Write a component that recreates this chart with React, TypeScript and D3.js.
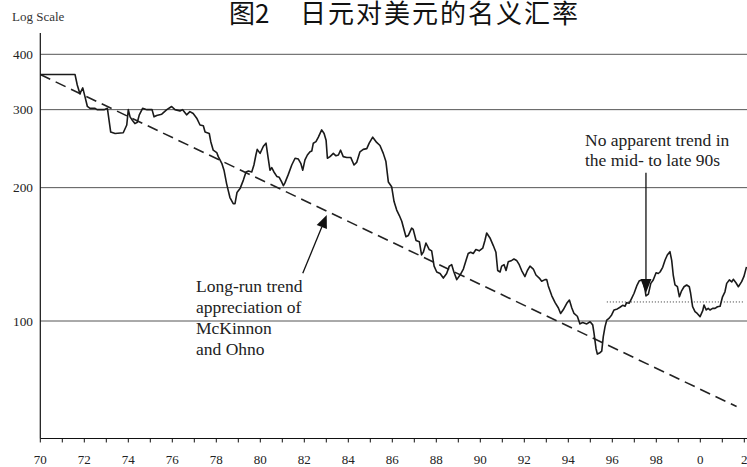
import React from "react";
import * as d3 from "d3";

// Yen per US dollar, monthly-ish observations (decimal years)
const dates = [
  1970.0, 1971.58, 1971.68, 1971.8, 1971.93, 1972.03, 1972.14, 1972.26, 1972.49, 1972.58, 1972.9,
  1973.05, 1973.2, 1973.4, 1973.77, 1973.93, 1974.0, 1974.08, 1974.2, 1974.3, 1974.41, 1974.5,
  1974.65, 1974.85, 1975.08, 1975.17, 1975.29, 1975.52, 1975.75, 1975.97, 1976.12, 1976.35,
  1976.47, 1976.65, 1976.8, 1976.95, 1977.11, 1977.26, 1977.41, 1977.49, 1977.68, 1977.75,
  1977.86, 1978.02, 1978.09, 1978.25, 1978.35, 1978.47, 1978.62, 1978.77, 1978.85, 1978.94,
  1979.08, 1979.23, 1979.35, 1979.46, 1979.61, 1979.71, 1979.8, 1979.86, 1979.99, 1980.14,
  1980.26, 1980.36, 1980.44, 1980.52, 1980.62, 1980.75, 1980.86, 1980.97, 1981.05, 1981.12,
  1981.27, 1981.43, 1981.58, 1981.73, 1981.84, 1981.93, 1982.03, 1982.14, 1982.26, 1982.34,
  1982.41, 1982.53, 1982.64, 1982.79, 1982.9, 1982.99, 1983.05, 1983.17, 1983.32, 1983.44,
  1983.55, 1983.65, 1983.77, 1983.93, 1984.11, 1984.26, 1984.38, 1984.53, 1984.68, 1984.84,
  1984.95, 1985.11, 1985.29, 1985.44, 1985.59, 1985.71, 1985.82, 1985.97, 1986.08, 1986.2,
  1986.32, 1986.43, 1986.5, 1986.62, 1986.73, 1986.88, 1986.95, 1987.08, 1987.23, 1987.33,
  1987.41, 1987.53, 1987.68, 1987.79, 1987.9, 1988.02, 1988.17, 1988.32, 1988.47, 1988.59,
  1988.7, 1988.8, 1988.93, 1989.08, 1989.23, 1989.35, 1989.45, 1989.56, 1989.68, 1989.8,
  1989.95, 1990.11, 1990.21, 1990.29, 1990.44, 1990.59, 1990.71, 1990.79, 1990.9, 1990.97,
  1991.08, 1991.17, 1991.27, 1991.43, 1991.53, 1991.65, 1991.77, 1991.88, 1992.03, 1992.14,
  1992.26, 1992.41, 1992.53, 1992.68, 1992.79, 1992.94, 1993.02, 1993.09, 1993.25, 1993.4,
  1993.55, 1993.65, 1993.77, 1993.93, 1994.05, 1994.16, 1994.26, 1994.41, 1994.53, 1994.65,
  1994.84, 1994.99, 1995.11, 1995.17, 1995.26, 1995.32, 1995.44, 1995.52, 1995.59, 1995.67,
  1995.75, 1995.86, 1995.97, 1996.08, 1996.23, 1996.35, 1996.47, 1996.58, 1996.65, 1996.77,
  1996.88, 1996.99, 1997.11, 1997.23, 1997.38, 1997.49, 1997.53, 1997.64, 1997.75, 1997.86,
  1997.99, 1998.09, 1998.17, 1998.29, 1998.4, 1998.5, 1998.62, 1998.7, 1998.77, 1998.85,
  1998.96, 1999.05, 1999.15, 1999.26, 1999.38, 1999.5, 1999.56, 1999.65, 1999.76, 1999.86,
  1999.99, 2000.11, 2000.17, 2000.27, 2000.36, 2000.44, 2000.56, 2000.67, 2000.78, 2000.9,
  2001.01, 2001.12, 2001.2, 2001.32, 2001.43, 2001.5, 2001.62, 2001.73, 2001.88, 2001.98, 2002.1,
];

const yenPerDollar = [
  360, 360, 341, 326, 336, 321, 305, 302, 302, 300, 300,
  302, 267, 265, 266, 277, 300, 289, 283, 279, 281, 292,
  302, 300, 300, 289, 291, 293, 300, 305, 300, 298,
  300, 292, 297, 294, 287, 277, 276, 267, 265, 254,
  243, 240, 235, 227, 219, 204, 190, 184, 184, 195,
  199, 208, 217, 218, 217, 225, 237, 244, 239, 248,
  252, 233, 219, 222, 217, 212, 211, 206, 202, 205,
  214, 225, 233, 232, 227, 219, 231, 237, 241, 242,
  252, 254, 260, 270, 265, 256, 233, 235, 239, 236,
  237, 243, 235, 234, 234, 225, 228, 241, 244, 245,
  252, 260, 253, 249, 239, 229, 206, 201, 186, 178,
  173, 168, 163, 155, 156, 162, 161, 152, 151, 141,
  143, 150, 145, 144, 133, 129, 128, 125, 128, 133,
  134, 129, 124, 127, 131, 137, 142, 143, 142, 145,
  144, 146, 152, 158, 154, 148, 143, 130, 129, 133,
  134, 130, 136, 137, 138, 137, 134, 130, 126, 130,
  133, 131, 127, 125, 123, 124, 124, 120, 114, 110,
  107, 104, 106, 109.6, 111.5, 107, 104, 102.5, 98.5, 99.2,
  98.5, 99.6, 98, 93.8, 86.7, 84.2, 84.8, 85.5, 92.2, 97.1,
  100.5, 101.5, 103.2, 105.9, 106.5, 107.4, 108.5, 108, 110, 109.7,
  112.5, 115.5, 120, 123.3, 123.8, 117.5, 113.9, 115, 121.6, 123.8,
  128.5, 128, 129, 132.2, 137.3, 140.9, 143.4, 137, 127, 120.6,
  119.5, 113.4, 117, 119.5, 120.6, 119.5, 115.5, 107.7, 105, 104,
  102.3, 105.5, 108.7, 105.9, 106.8, 105.9, 106.8, 106.8, 107.7, 108,
  113.4, 116.4, 121.6, 123.8, 122.5, 124.2, 122, 119.5, 122.7, 125.9, 132.5,
];

// Long-run appreciation trend (straight on the log scale)
const trendYears = [1970, 2001.65];
const trendValues = [360, 64.1];

// Flat level marking the late-90s range
const flatYears = [1995.75, 2002];
const flatValue = 110.4;

const yTickValues = [100, 200, 300, 400];
const xTickYears = d3.range(1970, 2003);

const titleFigure = "图2";
const titleText = "日元对美元的名义汇率";
const yAxisNote = "Log Scale";
const leftNote = ["Long-run trend", "appreciation of", "McKinnon", "and Ohno"];
const rightNote = ["No apparent trend in", "the mid- to late 90s"];

// Arrow anchors in data space: [year, value]
const leftArrow = { from: [1981.93, 128.1], to: [1983.02, 173.5] };
const rightArrow = { from: [1997.53, 216], to: [1997.53, 115.6] };

const W = 747;
const H = 467;
const serif = "'Liberation Serif', 'Times New Roman', serif";

const x = d3.scaleLinear().domain([1970, 2002]).range([40.3, 744.3]);
const y = d3.scaleLog().domain([100, 400]).range([321, 54.3]);
const yAxisTop = 447;
const yAxisBottom = 54.3;

function Arrow({ from, to, len, half }: { from: number[]; to: number[]; len: number; half: number }) {
  const x1 = x(from[0]);
  const y1 = y(from[1]);
  const x2 = x(to[0]);
  const y2 = y(to[1]);
  const dx = x2 - x1;
  const dy = y2 - y1;
  const d = Math.hypot(dx, dy);
  const ux = dx / d;
  const uy = dy / d;
  const bx = x2 - ux * len;
  const by = y2 - uy * len;
  const px = -uy * half;
  const py = ux * half;
  return (
    <g>
      <line x1={x1} y1={y1} x2={bx} y2={by} stroke="#111" strokeWidth={1.3} />
      <polygon points={`${x2},${y2} ${bx + px},${by + py} ${bx - px},${by - py}`} fill="#111" />
    </g>
  );
}

export default function App() {
  const points = dates.map((d, i) => [d, yenPerDollar[i]] as [number, number]);
  const line = d3
    .line<[number, number]>()
    .x((d) => x(d[0]))
    .y((d) => y(d[1]))
    .curve(d3.curveLinear);

  const axisY = y(yAxisBottom);
  const x0 = x(1970);

  return (
    <div style={{ position: "absolute", left: 0, top: 0 }}>
      <svg width={W} height={H} style={{ display: "block", background: "#fff" }}>
        <rect width={W} height={H} fill="#fff" />

        <text x={229} y={23} fontFamily="'Noto Sans CJK SC', sans-serif" fontSize={26} fill="#111">
          {titleFigure}
        </text>
        <text
          x={300}
          y={23}
          fontFamily="'Noto Sans CJK SC', sans-serif"
          fontSize={26}
          letterSpacing={2}
          fill="#111"
        >
          {titleText}
        </text>

        <text x={12} y={20.7} fontFamily={serif} fontSize={13} fill="#333">
          {yAxisNote}
        </text>

        {/* horizontal gridlines and value labels */}
        {yTickValues.map((v) => (
          <g key={v}>
            <line x1={x0} x2={W} y1={y(v)} y2={y(v)} stroke="#555" strokeWidth={1} />
            <text
              x={33}
              y={y(v) + 4.6}
              textAnchor="end"
              fontFamily={serif}
              fontSize={13.3}
              fill="#222"
            >
              {v}
            </text>
          </g>
        ))}

        {/* axes */}
        <line x1={x0} x2={x0} y1={y(yAxisTop)} y2={axisY} stroke="#111" strokeWidth={1.2} />
        <line x1={x0} x2={W} y1={axisY} y2={axisY} stroke="#111" strokeWidth={1.2} />
        {xTickYears.map((yr) => (
          <g key={yr}>
            <line x1={x(yr)} x2={x(yr)} y1={axisY} y2={axisY + 4} stroke="#111" strokeWidth={1} />
            {yr % 2 === 0 && (
              <text
                x={x(yr)}
                y={464}
                textAnchor="middle"
                fontFamily={serif}
                fontSize={13}
                fill="#222"
              >
                {String(yr % 100)}
              </text>
            )}
          </g>
        ))}

        {/* flat late-90s level */}
        <line
          x1={x(flatYears[0])}
          x2={x(flatYears[1])}
          y1={y(flatValue)}
          y2={y(flatValue)}
          stroke="#555"
          strokeWidth={1}
          strokeDasharray="1.2,1.8"
        />

        {/* long-run trend */}
        <line
          x1={x(trendYears[0])}
          y1={y(trendValues[0])}
          x2={x(trendYears[1])}
          y2={y(trendValues[1])}
          stroke="#222"
          strokeWidth={1.6}
          strokeDasharray="11,6"
        />

        {/* exchange rate */}
        <path d={line(points) ?? ""} fill="none" stroke="#1a1a1a" strokeWidth={1.6} strokeLinejoin="round" />

        <Arrow from={leftArrow.from} to={leftArrow.to} len={13} half={5.5} />
        <Arrow from={rightArrow.from} to={rightArrow.to} len={14} half={5.5} />

        {leftNote.map((t, i) => (
          <text key={t} x={196} y={292 + i * 21} fontFamily={serif} fontSize={17.5} fill="#222">
            {t}
          </text>
        ))}
        {rightNote.map((t, i) => (
          <text key={t} x={585} y={145.5 + i * 20.5} fontFamily={serif} fontSize={17.5} fill="#222">
            {t}
          </text>
        ))}
      </svg>
    </div>
  );
}
